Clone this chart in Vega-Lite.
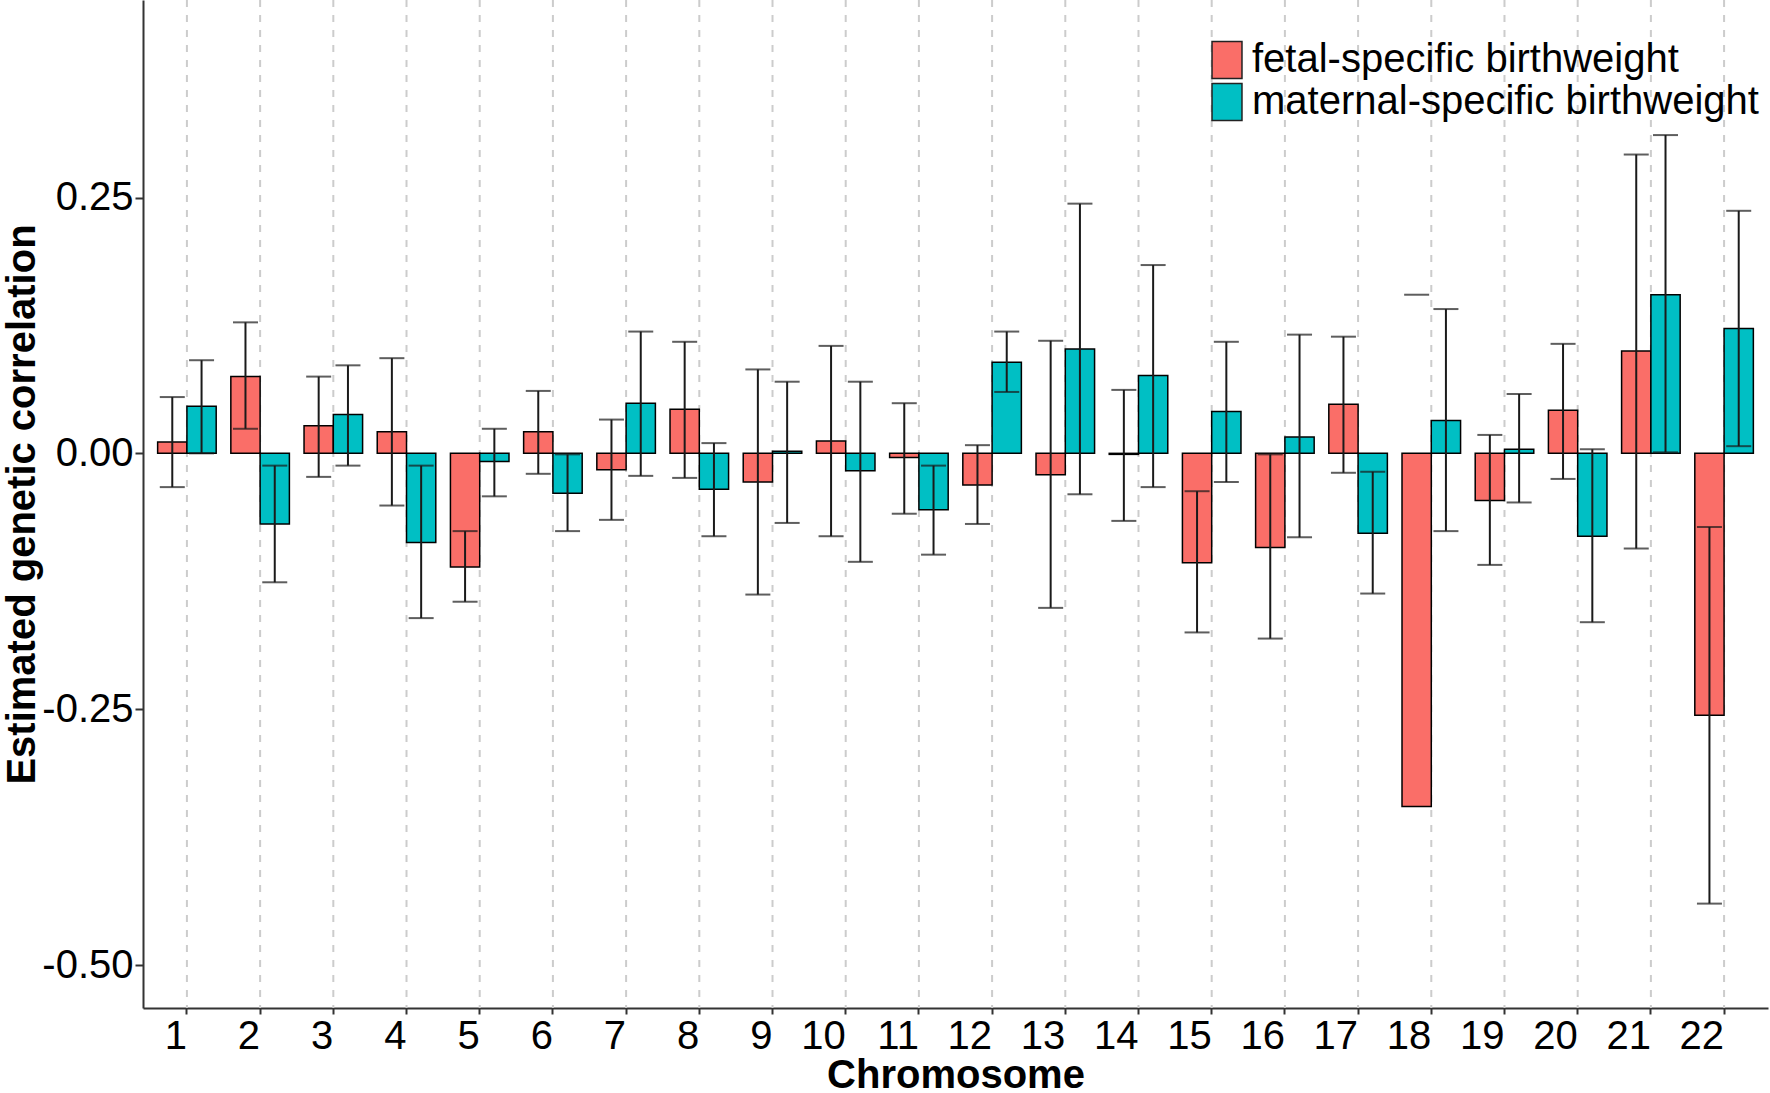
{
  "$schema": "https://vega.github.io/schema/vega-lite/v6.json",
  "autosize": {"type": "none"},
  "padding": {"left": 143, "top": 0, "right": 2, "bottom": 85},
  "width": 1625,
  "height": 1008,
  "background": "white",
  "config": {
    "view": {"stroke": null},
    "font": "Liberation Sans",
    "axis": {"labelFont": "Liberation Sans", "titleFont": "Liberation Sans"}
  },
  "data": {
    "values": [
      {"chr": 1, "group": "fetal-specific birthweight", "value": 0.011, "lo": -0.033, "hi": 0.055},
      {"chr": 1, "group": "maternal-specific birthweight", "value": 0.046, "lo": 0.000, "hi": 0.091},
      {"chr": 2, "group": "fetal-specific birthweight", "value": 0.075, "lo": 0.024, "hi": 0.128},
      {"chr": 2, "group": "maternal-specific birthweight", "value": -0.069, "lo": -0.126, "hi": -0.012},
      {"chr": 3, "group": "fetal-specific birthweight", "value": 0.027, "lo": -0.023, "hi": 0.075},
      {"chr": 3, "group": "maternal-specific birthweight", "value": 0.038, "lo": -0.012, "hi": 0.086},
      {"chr": 4, "group": "fetal-specific birthweight", "value": 0.021, "lo": -0.051, "hi": 0.093},
      {"chr": 4, "group": "maternal-specific birthweight", "value": -0.087, "lo": -0.161, "hi": -0.012},
      {"chr": 5, "group": "fetal-specific birthweight", "value": -0.111, "lo": -0.145, "hi": -0.076},
      {"chr": 5, "group": "maternal-specific birthweight", "value": -0.008, "lo": -0.042, "hi": 0.024},
      {"chr": 6, "group": "fetal-specific birthweight", "value": 0.021, "lo": -0.020, "hi": 0.061},
      {"chr": 6, "group": "maternal-specific birthweight", "value": -0.039, "lo": -0.076, "hi": -0.001},
      {"chr": 7, "group": "fetal-specific birthweight", "value": -0.016, "lo": -0.065, "hi": 0.033},
      {"chr": 7, "group": "maternal-specific birthweight", "value": 0.049, "lo": -0.022, "hi": 0.119},
      {"chr": 8, "group": "fetal-specific birthweight", "value": 0.043, "lo": -0.024, "hi": 0.109},
      {"chr": 8, "group": "maternal-specific birthweight", "value": -0.035, "lo": -0.081, "hi": 0.010},
      {"chr": 9, "group": "fetal-specific birthweight", "value": -0.028, "lo": -0.138, "hi": 0.082},
      {"chr": 9, "group": "maternal-specific birthweight", "value": 0.002, "lo": -0.068, "hi": 0.070},
      {"chr": 10, "group": "fetal-specific birthweight", "value": 0.012, "lo": -0.081, "hi": 0.105},
      {"chr": 10, "group": "maternal-specific birthweight", "value": -0.017, "lo": -0.106, "hi": 0.070},
      {"chr": 11, "group": "fetal-specific birthweight", "value": -0.004, "lo": -0.059, "hi": 0.049},
      {"chr": 11, "group": "maternal-specific birthweight", "value": -0.055, "lo": -0.099, "hi": -0.012},
      {"chr": 12, "group": "fetal-specific birthweight", "value": -0.031, "lo": -0.069, "hi": 0.008},
      {"chr": 12, "group": "maternal-specific birthweight", "value": 0.089, "lo": 0.060, "hi": 0.119},
      {"chr": 13, "group": "fetal-specific birthweight", "value": -0.021, "lo": -0.151, "hi": 0.110},
      {"chr": 13, "group": "maternal-specific birthweight", "value": 0.102, "lo": -0.040, "hi": 0.244},
      {"chr": 14, "group": "fetal-specific birthweight", "value": -0.001, "lo": -0.066, "hi": 0.062},
      {"chr": 14, "group": "maternal-specific birthweight", "value": 0.076, "lo": -0.033, "hi": 0.184},
      {"chr": 15, "group": "fetal-specific birthweight", "value": -0.107, "lo": -0.175, "hi": -0.037},
      {"chr": 15, "group": "maternal-specific birthweight", "value": 0.041, "lo": -0.028, "hi": 0.109},
      {"chr": 16, "group": "fetal-specific birthweight", "value": -0.092, "lo": -0.181, "hi": -0.001},
      {"chr": 16, "group": "maternal-specific birthweight", "value": 0.016, "lo": -0.082, "hi": 0.116},
      {"chr": 17, "group": "fetal-specific birthweight", "value": 0.048, "lo": -0.019, "hi": 0.114},
      {"chr": 17, "group": "maternal-specific birthweight", "value": -0.078, "lo": -0.137, "hi": -0.018},
      {"chr": 18, "group": "fetal-specific birthweight", "value": -0.345, "lo": null, "hi": 0.155},
      {"chr": 18, "group": "maternal-specific birthweight", "value": 0.032, "lo": -0.076, "hi": 0.141},
      {"chr": 19, "group": "fetal-specific birthweight", "value": -0.046, "lo": -0.109, "hi": 0.018},
      {"chr": 19, "group": "maternal-specific birthweight", "value": 0.004, "lo": -0.048, "hi": 0.058},
      {"chr": 20, "group": "fetal-specific birthweight", "value": 0.042, "lo": -0.025, "hi": 0.107},
      {"chr": 20, "group": "maternal-specific birthweight", "value": -0.081, "lo": -0.165, "hi": 0.004},
      {"chr": 21, "group": "fetal-specific birthweight", "value": 0.100, "lo": -0.093, "hi": 0.292},
      {"chr": 21, "group": "maternal-specific birthweight", "value": 0.155, "lo": 0.001, "hi": 0.311},
      {"chr": 22, "group": "fetal-specific birthweight", "value": -0.256, "lo": -0.440, "hi": -0.072},
      {"chr": 22, "group": "maternal-specific birthweight", "value": 0.122, "lo": 0.007, "hi": 0.237}
    ]
  },
  "encoding": {
    "x": {
      "field": "chr", "type": "ordinal", "sort": "ascending",
      "scale": {"type": "band", "paddingInner": 0.2, "paddingOuter": 0.2},
      "axis": {
        "title": "Chromosome",
        "titleFontSize": 40, "titleFontWeight": "bold", "titleColor": "#000000",
        "titleY": 79, "titleBaseline": "alphabetic",
        "labelFontSize": 40, "labelAngle": 0, "labelAlign": "right", "labelBaseline": "alphabetic",
        "labelPadding": 34, "labelColor": "#000000", "labelDx": 2,
        "tickSize": 6, "tickWidth": 2, "tickColor": "#333333",
        "domainColor": "#333333", "domainWidth": 2, "grid": false
      }
    }
  },
  "layer": [
    {
      "transform": [{"filter": "datum.group == 'fetal-specific birthweight'"}],
      "mark": {"type": "rule", "color": "#cccccc", "strokeWidth": 2, "strokeDash": [7, 8]},
      "encoding": {}
    },
    {
      "mark": {"type": "bar", "stroke": "#000000", "strokeWidth": 1.5},
      "encoding": {
        "xOffset": {"field": "group", "type": "nominal", "scale": {"paddingInner": 0, "paddingOuter": 0}},
        "y": {
          "field": "value", "type": "quantitative",
          "scale": {"domain": [-0.542, 0.443], "nice": false, "zero": false},
          "axis": {
            "title": "Estimated genetic correlation",
            "titleFontSize": 40, "titleFontWeight": "bold", "titleColor": "#000000",
            "titleX": -109, "titleY": 504, "titleAngle": 270, "titleBaseline": "alphabetic", "titleAlign": "center",
            "values": [-0.5, -0.25, 0, 0.25],
            "labelExpr": "replace(format(datum.value, '.2f'), '\u2212', '-')",
            "labelFontSize": 40, "labelColor": "#000000", "labelPadding": 2,
            "tickSize": 8, "tickWidth": 2, "tickColor": "#333333",
            "domainColor": "#333333", "domainWidth": 2, "grid": false
          }
        },
        "color": {
          "field": "group", "type": "nominal",
          "scale": {"domain": ["fetal-specific birthweight", "maternal-specific birthweight"], "range": ["#FA6E68", "#00BFC4"]},
          "legend": {
            "title": null, "orient": "none", "legendX": 1064, "legendY": 40,
            "padding": 0, "labelFontSize": 40, "labelColor": "#000000", "labelLimit": 800,
            "labelOffset": 5, "rowPadding": -3,
            "symbolType": "M-0.81,-1H0.81V1H-0.81Z", "symbolSize": 1369,
            "symbolStrokeColor": "#222222", "symbolStrokeWidth": 1.5, "symbolOpacity": 1
          }
        }
      }
    },
    {
      "transform": [{"filter": "isValid(datum.lo)"}],
      "mark": {"type": "rule", "color": "#1a1a1a", "strokeWidth": 2},
      "encoding": {
        "xOffset": {"field": "group", "type": "nominal"},
        "y": {"field": "lo", "type": "quantitative"},
        "y2": {"field": "hi"}
      }
    },
    {
      "mark": {"type": "tick", "orient": "horizontal", "size": 25, "thickness": 2, "color": "#1a1a1a"},
      "encoding": {
        "xOffset": {"field": "group", "type": "nominal"},
        "y": {"field": "hi", "type": "quantitative"}
      }
    },
    {
      "transform": [{"filter": "isValid(datum.lo)"}],
      "mark": {"type": "tick", "orient": "horizontal", "size": 25, "thickness": 2, "color": "#1a1a1a"},
      "encoding": {
        "xOffset": {"field": "group", "type": "nominal"},
        "y": {"field": "lo", "type": "quantitative"}
      }
    }
  ]
}
